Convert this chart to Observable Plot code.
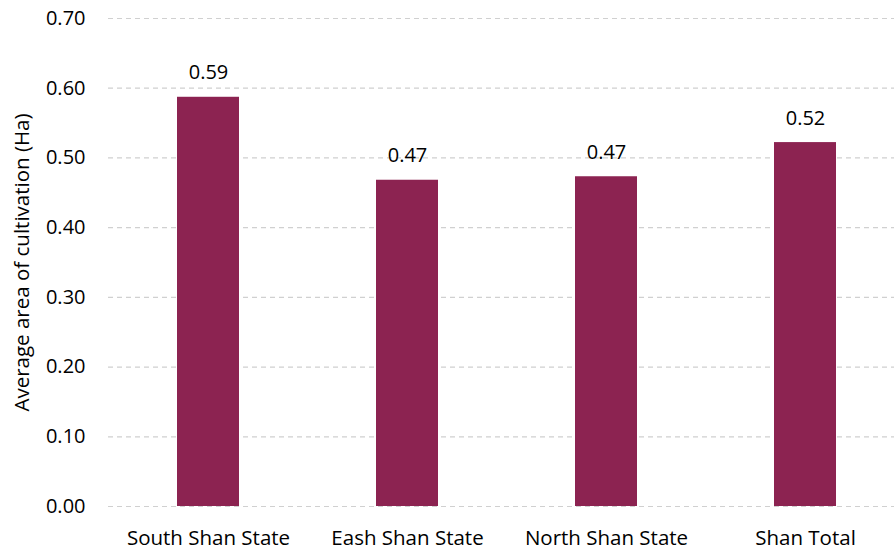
<!DOCTYPE html>
<html>
<head>
<meta charset="utf-8">
<script src="https://cdn.jsdelivr.net/npm/d3@7"></script>
<script src="https://cdn.jsdelivr.net/npm/@observablehq/plot@0.6"></script>
<style>
  html, body { margin: 0; padding: 0; background: #fff; overflow: hidden; }
</style>
</head>
<body>
<div id="chart"></div>
<script>
const categories = ["South Shan State", "Eash Shan State", "North Shan State", "Shan Total"];
const values = [0.587, 0.468, 0.473, 0.522];
const valueLabels = ["0.59", "0.47", "0.47", "0.52"];
const yTicks = [0, 0.1, 0.2, 0.3, 0.4, 0.5, 0.6, 0.7];
const yTitle = "Average area of cultivation (Ha)";

const data = categories.map((c, i) => ({category: c, value: values[i], label: valueLabels[i]}));

const chart = Plot.plot({
  width: 894,
  height: 551,
  marginLeft: 108,
  marginRight: 0,
  marginTop: 18,
  marginBottom: 45,
  style: {fontFamily: "'Open Sans', sans-serif", fontSize: "20px", color: "#000", background: "#fff", overflow: "hidden"},
  x: {domain: categories, range: [108.5, 904.5], paddingInner: 0.69, paddingOuter: 0.345, label: null},
  y: {domain: [0, 0.7], label: null},
  marks: [
    Plot.ruleY(yTicks, {stroke: "#d0d0d0", strokeWidth: 1.2, strokeDasharray: "5,4"}),
    Plot.barY(data, {x: "category", y: "value", fill: "#8c2351"}),
    Plot.text(data, {x: "category", y: "value", text: "label", lineAnchor: "bottom", dy: -18, fontSize: 20, fill: "#000"}),
    Plot.axisY({ticks: yTicks, tickFormat: d3.format(".2f"), tickSize: 0, tickPadding: 23, fontSize: 20, label: null}),
    Plot.axisX({tickSize: 0, tickPadding: 24, fontSize: 20.5, label: null}),
    Plot.text([yTitle], {frameAnchor: "left", textAnchor: "middle", dx: -86, rotate: -90, fontSize: 20.5, fill: "#000"})
  ]
});
document.getElementById("chart").appendChild(chart);
</script>
</body>
</html>
